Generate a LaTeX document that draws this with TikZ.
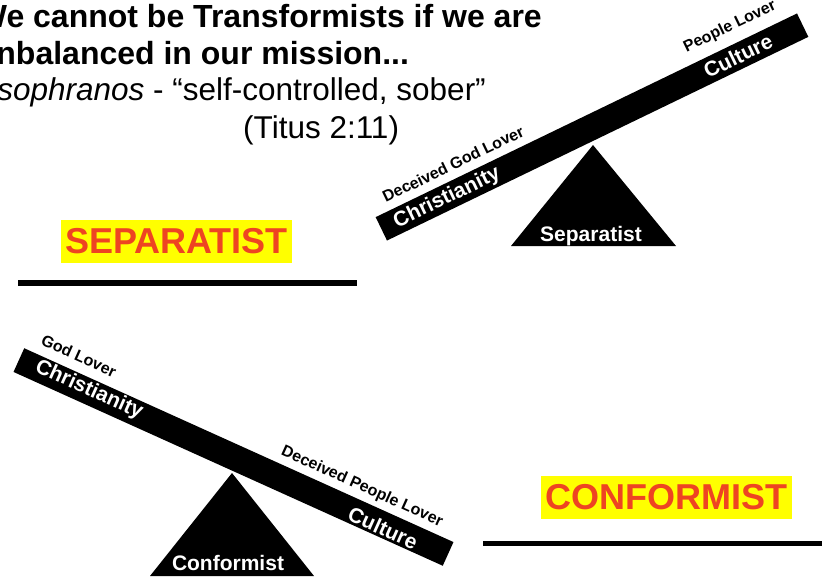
\documentclass[tikz,border=0pt]{standalone}
\usepackage{fontspec}
\setmainfont{Liberation Sans}
\definecolor{hl}{RGB}{255,255,0}
\definecolor{redtxt}{RGB}{238,68,34}
\begin{document}
\begin{tikzpicture}[x=1pt,y=-1pt,
  beam/.style={fill=black, draw=none, minimum width=#1, minimum height=26pt, inner sep=0pt},
  pivot/.style={fill=black, draw=none},
  small/.style={font=\fontsize{16}{18}\selectfont\bfseries, inner sep=0pt, text=black},
  big/.style={font=\fontsize{21}{24}\selectfont\bfseries, inner sep=0pt, text=white},
  tag/.style={font=\fontsize{36}{40}\selectfont\bfseries, text=redtxt, fill=hl, inner sep=0pt, minimum height=43pt},
  head/.style={font=\fontsize{32}{38}\selectfont\bfseries, inner sep=0pt},
  body/.style={font=\fontsize{31.5}{36}\selectfont, inner sep=0pt},
  rule/.style={line width=5.5pt, black},
]
\fill[white] (0,0) rectangle (823,581);
\useasboundingbox (0,0) rectangle (823,581);

% heading text
\node[head, anchor=base east] (l1) at (542,27) {We cannot be Transformists if we are};
\path (l1.base west) ++(0,37) node[head, anchor=base west] (l2) {unbalanced in our mission...};
\node[body, anchor=base east] (l3) at (486,100) {\itshape sophranos\/\upshape{} - “self-controlled, sober”};
\node[body, anchor=base west] (l4) at (243,138) {(Titus 2:11)};

% separatist seesaw
\path[pivot] (593,145) coordinate (sapex) -- (511,246) -- (676,246) -- cycle;
\node[beam=468pt, rotate=25.8] (sbar) at (592,127) {};
\node[small, rotate=25.8] (sdgl) at (453,164) {Deceived God Lover};
\node[big, rotate=25.8] (schr) at (447,198) {Christianity};
\node[small, rotate=25.8] (spl) at (730,27) {People Lover};
\node[big, rotate=25.8] (scul) at (738,56) {Culture};
\node[big, anchor=base] (stri) at (591,241) {Separatist};

\node[tag, minimum width=231pt] (septag) at (176.5,241.5) {SEPARATIST};
\draw[rule] (18,283) coordinate (sr1) -- (357,283) coordinate (sr2);

% conformist seesaw
\path[pivot] (232,473) coordinate (capex) -- (150,576) -- (314,576) -- cycle;
\node[beam=471pt, rotate=-24.3] (cbar) at (233.5,457) {};
\node[small, rotate=-24.3] (cgl) at (79,356) {God Lover};
\node[big, rotate=-24.3] (cchr) at (89,390) {Christianity};
\node[small, rotate=-24.3] (cdpl) at (362,487) {Deceived People Lover};
\node[big, rotate=-24.3] (ccul) at (383,528) {Culture};
\node[big, anchor=base] (ctri) at (228,570) {Conformist};

\node[tag, minimum width=251pt] (contag) at (666.5,497.5) {CONFORMIST};
\draw[rule] (483,543.5) coordinate (cr1) -- (822,543.5) coordinate (cr2);
\end{tikzpicture}
\end{document}
